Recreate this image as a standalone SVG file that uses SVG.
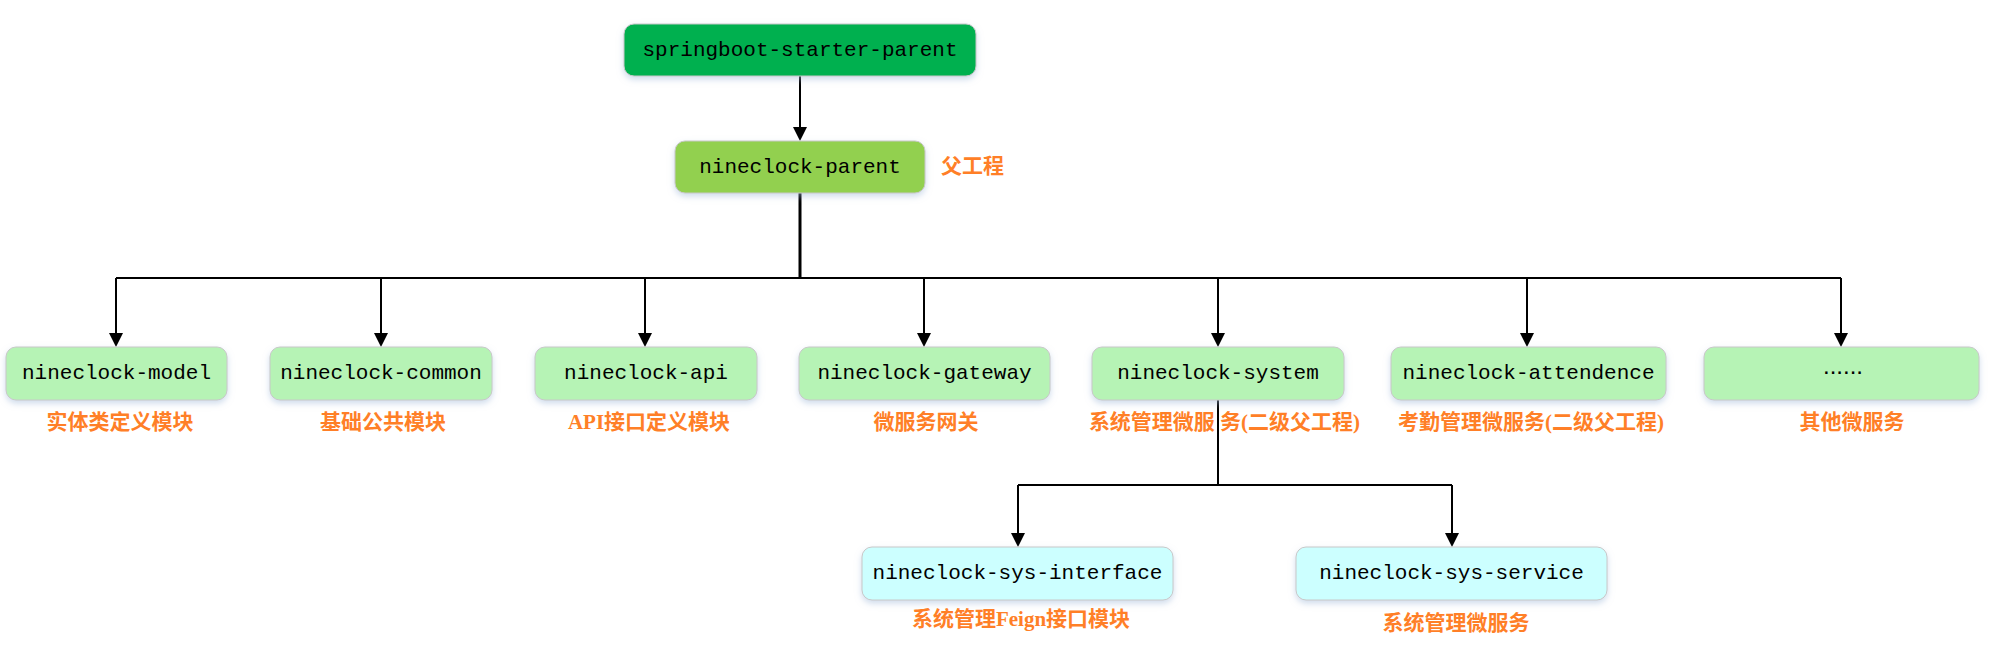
<svg xmlns="http://www.w3.org/2000/svg" width="1992" height="650" viewBox="0 0 1992 650">
<style>
.box{stroke:#c8c8c8;stroke-width:1;filter:url(#sh)}
.dark{fill:#00B050}
.mid{fill:#92D050}
.lite{fill:#B6F3B5}
.cyan{fill:#CCFFFF}
.nt{font-family:"Liberation Mono","Courier New",monospace;font-size:21px;fill:#000;text-anchor:middle;dominant-baseline:central}
.lb{font-family:"Liberation Serif","Noto Sans CJK SC",serif;font-size:21px;font-weight:bold;fill:#FF7F27;text-anchor:middle;dominant-baseline:central}
.ln{fill:none;stroke:#000;stroke-width:2}
</style>
<defs>
<filter id="sh" x="-10%" y="-20%" width="120%" height="160%">
<feDropShadow dx="0" dy="3" stdDeviation="3" flood-color="#9fb8d8" flood-opacity="0.5"/>
</filter>
</defs>
<rect width="1992" height="650" fill="#fff"/>

<g id="connectors">
<line class="ln" x1="800" y1="76" x2="800" y2="127"/>
<path d="M793,127 L807,127 L800,141 Z" fill="#000"/>
<line x1="800" y1="193" x2="800" y2="278" stroke="#000" stroke-width="3"/>
<line class="ln" x1="116" y1="278" x2="1841" y2="278"/>
<line class="ln" x1="116" y1="278" x2="116" y2="334"/>
<path d="M109,333 L123,333 L116,347 Z" fill="#000"/>
<line class="ln" x1="381" y1="278" x2="381" y2="334"/>
<path d="M374,333 L388,333 L381,347 Z" fill="#000"/>
<line class="ln" x1="645" y1="278" x2="645" y2="334"/>
<path d="M638,333 L652,333 L645,347 Z" fill="#000"/>
<line class="ln" x1="924" y1="278" x2="924" y2="334"/>
<path d="M917,333 L931,333 L924,347 Z" fill="#000"/>
<line class="ln" x1="1218" y1="278" x2="1218" y2="334"/>
<path d="M1211,333 L1225,333 L1218,347 Z" fill="#000"/>
<line class="ln" x1="1527" y1="278" x2="1527" y2="334"/>
<path d="M1520,333 L1534,333 L1527,347 Z" fill="#000"/>
<line class="ln" x1="1841" y1="278" x2="1841" y2="334"/>
<path d="M1834,333 L1848,333 L1841,347 Z" fill="#000"/>
<line class="ln" x1="1218" y1="400" x2="1218" y2="485"/>
<line class="ln" x1="1018" y1="485" x2="1452" y2="485"/>
<line class="ln" x1="1018" y1="485" x2="1018" y2="534"/>
<path d="M1011,533 L1025,533 L1018,547 Z" fill="#000"/>
<line class="ln" x1="1452" y1="485" x2="1452" y2="534"/>
<path d="M1445,533 L1459,533 L1452,547 Z" fill="#000"/>
</g>

<g id="n-springboot">
<rect class="box dark" x="624" y="24" width="352" height="52" rx="10"/>
<text class="nt" x="800" y="50">springboot-starter-parent</text>
</g>
<g id="n-parent">
<rect class="box mid" x="675" y="141" width="250" height="52" rx="10"/>
<text class="nt" x="800" y="167">nineclock-parent</text>
<text class="lb" x="941" y="166" style="text-anchor:start">父工程</text>
</g>
<g id="n-model">
<rect class="box lite" x="6" y="347" width="221" height="53" rx="10"/>
<text class="nt" x="116.5" y="373.5">nineclock-model</text>
<text class="lb" x="120" y="422">实体类定义模块</text>
</g>
<g id="n-common">
<rect class="box lite" x="270" y="347" width="222" height="53" rx="10"/>
<text class="nt" x="381" y="373.5">nineclock-common</text>
<text class="lb" x="383" y="422">基础公共模块</text>
</g>
<g id="n-api">
<rect class="box lite" x="535" y="347" width="222" height="53" rx="10"/>
<text class="nt" x="646" y="373.5">nineclock-api</text>
<text class="lb" x="649" y="422">API接口定义模块</text>
</g>
<g id="n-gateway">
<rect class="box lite" x="799" y="347" width="251" height="53" rx="10"/>
<text class="nt" x="924.5" y="373.5">nineclock-gateway</text>
<text class="lb" x="926" y="422">微服务网关</text>
</g>
<g id="n-system">
<rect class="box lite" x="1092" y="347" width="252" height="53" rx="10"/>
<text class="nt" x="1218" y="373.5">nineclock-system</text>
<text class="lb" x="1224.5" y="422">系统管理微服 务(二级父工程)</text>
</g>
<g id="n-attendence">
<rect class="box lite" x="1391" y="347" width="275" height="53" rx="10"/>
<text class="nt" x="1528.5" y="373.5">nineclock-attendence</text>
<text class="lb" x="1531" y="422">考勤管理微服务(二级父工程)</text>
</g>
<g id="n-other">
<rect class="box lite" x="1704" y="347" width="275" height="53" rx="10"/>
<text x="1843" y="374" font-family="Liberation Sans, Arial, sans-serif" font-size="24" text-anchor="middle" fill="#000">......</text>
<text class="lb" x="1852" y="422">其他微服务</text>
</g>
<g id="n-interface">
<rect class="box cyan" x="862" y="547" width="311" height="53" rx="10"/>
<text class="nt" x="1017.5" y="573.5">nineclock-sys-interface</text>
<text class="lb" x="1021" y="618.5">系统管理Feign接口模块</text>
</g>
<g id="n-service">
<rect class="box cyan" x="1296" y="547" width="311" height="53" rx="10"/>
<text class="nt" x="1451.5" y="573.5">nineclock-sys-service</text>
<text class="lb" x="1456" y="623">系统管理微服务</text>
</g>
</svg>
